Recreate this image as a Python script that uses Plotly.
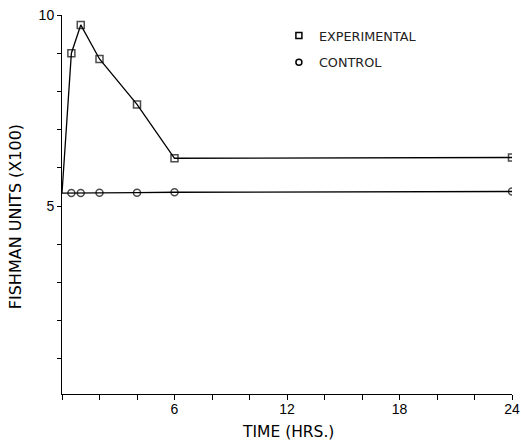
import plotly.graph_objects as go

# Data
exp_x = [0, 0.5, 1, 2, 4, 6, 24]
exp_y = [5.34, 9.0, 9.74, 8.85, 7.66, 6.25, 6.27]
ctl_x = [0, 0.5, 1, 2, 4, 6, 24]
ctl_y = [5.34, 5.34, 5.34, 5.35, 5.35, 5.36, 5.38]

x_tickvals = [0, 2, 4, 6, 8, 10, 12, 14, 16, 18, 20, 22, 24]
x_ticktext = ["", "", "", "6", "", "", "12", "", "", "18", "", "", "24"]
y_tickvals = [1, 2, 3, 4, 5, 6, 7, 8, 9, 10]
y_ticktext = ["", "", "", "", "5", "", "", "", "", "10"]

FONT = "Liberation Sans, Arial, sans-serif"
TFONT = "DejaVu Sans, sans-serif"

fig = go.Figure()

# lines (marker at x=0 hidden)
fig.add_trace(go.Scatter(
    x=exp_x, y=exp_y, mode="lines+markers", showlegend=False,
    line=dict(color="black", width=1.3),
    marker=dict(symbol="square-open", size=[0] + [7] * (len(exp_x) - 1),
                color="black", line=dict(width=1.5)),
))
fig.add_trace(go.Scatter(
    x=ctl_x, y=ctl_y, mode="lines+markers", showlegend=False,
    line=dict(color="black", width=1.3),
    marker=dict(symbol="circle-open", size=[0] + [7] * (len(ctl_x) - 1),
                color="black", line=dict(width=1.5)),
))
# legend entries
fig.add_trace(go.Scatter(
    x=[None], y=[None], mode="markers", name="EXPERIMENTAL", legendgroup="a",
    marker=dict(symbol="square-open", size=6, color="black", line=dict(width=1.5)),
))
fig.add_trace(go.Scatter(
    x=[None], y=[None], mode="markers", name="CONTROL", legendgroup="b",
    marker=dict(symbol="circle-open", size=6, color="black", line=dict(width=1.5)),
))

fig.update_layout(
    width=521, height=441,
    margin=dict(l=62, r=9, t=15, b=47, autoexpand=False),
    paper_bgcolor="white", plot_bgcolor="white",
    font=dict(family=FONT, size=14, color="black"),
    showlegend=True,
    legend=dict(
        x=0.482, y=0.985, xanchor="left", yanchor="top",
        font=dict(family=TFONT, size=12.8, color="#222"),
        bgcolor="rgba(0,0,0,0)", tracegroupgap=7, itemwidth=30,
    ),
    xaxis=dict(
        range=[0, 24], tickvals=x_tickvals, ticktext=x_ticktext,
        showline=True, linecolor="black", linewidth=1,
        ticks="outside", ticklen=5, tickcolor="black", tickwidth=1,
        showgrid=False, zeroline=False, ticklabeloverflow="allow",
        ticklabelstandoff=-3, automargin=False,
    ),
    yaxis=dict(
        range=[0.08, 10], tickvals=y_tickvals, ticktext=y_ticktext,
        showline=True, linecolor="black", linewidth=1,
        ticks="outside", ticklen=4, tickcolor="black", tickwidth=1,
        showgrid=False, zeroline=False, ticklabeloverflow="allow",
        automargin=False,
    ),
    annotations=[
        dict(
            text="FISHMAN UNITS (X100)", textangle=-90,
            xref="paper", yref="paper", x=-0.104, y=0.467,
            xanchor="center", yanchor="middle", showarrow=False,
            font=dict(family=TFONT, size=16),
        ),
        dict(
            text="TIME (HRS.)",
            xref="paper", yref="paper", x=0.502, y=-0.1,
            xanchor="center", yanchor="middle", showarrow=False,
            font=dict(family=TFONT, size=15.5),
        ),
    ],
)

fig.write_html(
    "out.html",
    config={"displayModeBar": False},
    post_script="document.body.style.margin='0';document.body.style.overflow='hidden';",
)
